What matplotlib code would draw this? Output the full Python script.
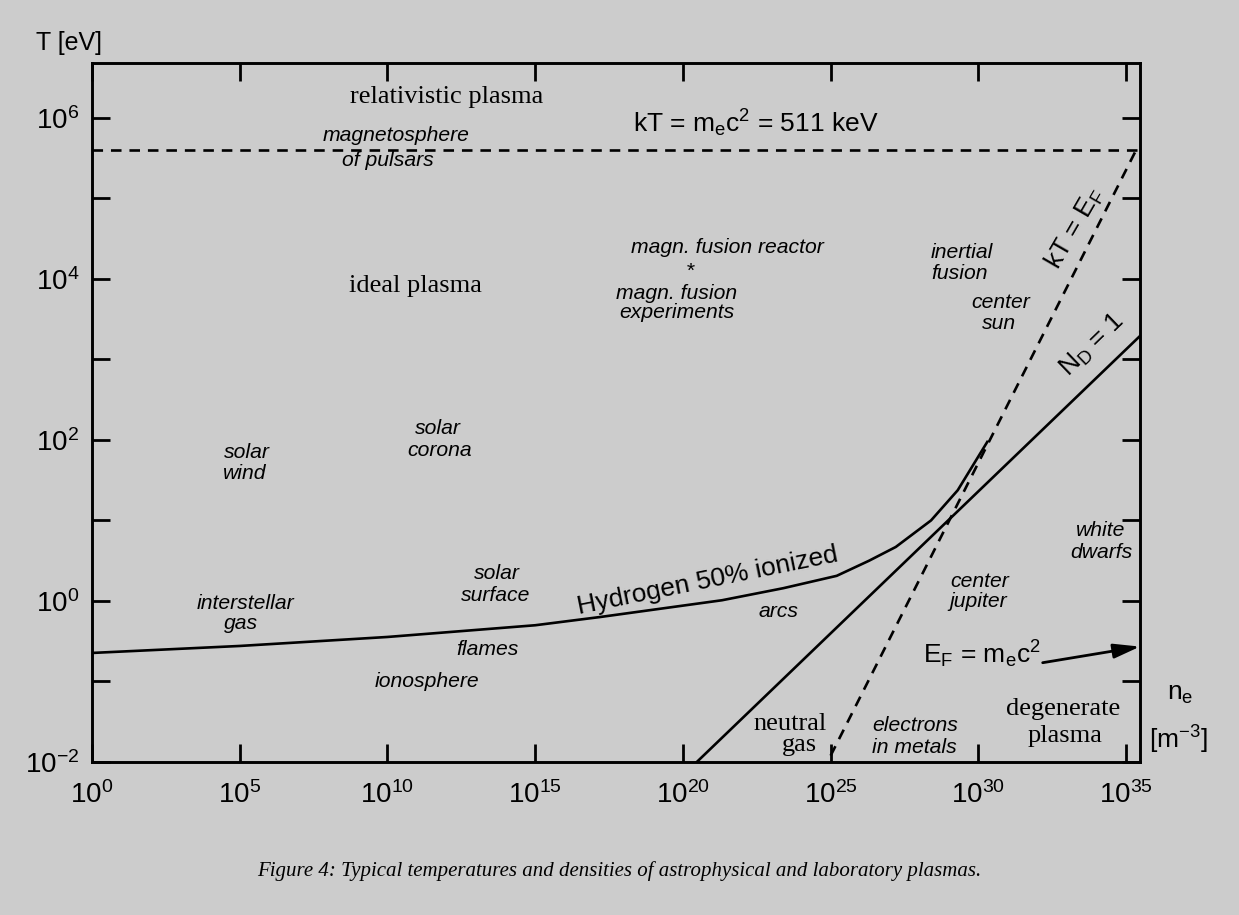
#!/usr/bin/env python3
"""Temperature / density map of astrophysical and laboratory plasmas.

Redraws the classic n_e - T overview: ideal vs. degenerate vs. relativistic
regimes, separated by the N_D = 1, kT = E_F and kT = m_e c^2 lines, plus the
hydrogen 50 % ionisation boundary.  Saves out.png (1239 x 915 px).
"""

import matplotlib
matplotlib.use("Agg")
import matplotlib.pyplot as plt
from matplotlib.ticker import FixedLocator, FixedFormatter, NullLocator

BG = "#cccccc"
SANS = "Liberation Sans"
SERIF = "Liberation Serif"

# axis ranges: n_e [m^-3] and T [eV]
XLIM = (1.0, 10 ** 35.47)
YLIM = (1.0e-2, 10 ** 6.68)

x_ticks = [1e0, 1e5, 1e10, 1e15, 1e20, 1e25, 1e30, 1e35]
x_ticklabels = [r"$10^{0}$", r"$10^{5}$", r"$10^{10}$", r"$10^{15}$",
                r"$10^{20}$", r"$10^{25}$", r"$10^{30}$", r"$10^{35}$"]
y_ticks = [1e-2, 1e-1, 1e0, 1e1, 1e2, 1e3, 1e4, 1e5, 1e6]
y_ticklabels = [r"$10^{-2}$", "", r"$10^{0}$", "", r"$10^{2}$", "",
                r"$10^{4}$", "", r"$10^{6}$"]

# hydrogen 50% ionized boundary
n_h50 = [1e0, 1e5, 1e10, 1e15, 1.6e17, 2.1e21, 2.5e23, 1.6e25,
         2.0e26, 1.6e27, 2.5e28, 2.0e29, 2.0e30]
T_h50 = [0.226, 0.276, 0.357, 0.499, 0.632, 1.02, 1.44, 2.05,
         3.16, 4.68, 10.0, 23.7, 94.4]

# N_D = 1 (one electron per Debye sphere)
n_nd1 = [2.95e20, 2.95e35]
T_nd1 = [1.0e-2, 1.95e3]

# kT = E_F (onset of degeneracy)
n_fermi = [1.0e25, 2.2e35]
T_fermi = [1.2e-2, 4.0e5]

# kT = m_e c^2 line, at the height it is drawn
n_rel = [1.0, 2.95e35]
T_rel = [4.0e5, 4.0e5]

# E_F = m_e c^2 pointer (tail at the label, head on the right frame)
arrow_tail = (1.5e32, 0.171)
arrow_head = (2.95e35, 0.271)

FONTS = {
    "it": dict(family=SANS, style="italic", size=15.2),
    "serif": dict(family=SERIF, size=19),
    "sans": dict(family=SANS, size=19),
}


def put(ax, s, lgn, lgT, kind="it", **kw):
    """Place a label at (10**lgn, 10**lgT), centred, on its baseline."""
    opts = dict(ha="center", va="baseline")
    opts.update(kw)
    ax.text(10 ** lgn, 10 ** lgT, s, **FONTS[kind], **opts)


def setup_axes(fig):
    ax = fig.add_axes([92 / 1239, 1 - 762 / 915,
                       (1140 - 92) / 1239, (762 - 63) / 915])
    ax.set_facecolor(BG)
    ax.set_xscale("log")
    ax.set_yscale("log")
    ax.set_xlim(*XLIM)
    ax.set_ylim(*YLIM)

    ax.xaxis.set_major_locator(FixedLocator(x_ticks))
    ax.xaxis.set_major_formatter(FixedFormatter(x_ticklabels))
    ax.yaxis.set_major_locator(FixedLocator(y_ticks))
    ax.yaxis.set_major_formatter(FixedFormatter(y_ticklabels))
    ax.xaxis.set_minor_locator(NullLocator())
    ax.yaxis.set_minor_locator(NullLocator())

    ax.tick_params(which="major", direction="in", length=13, width=2.0,
                   top=True, right=True, labelsize=20, colors="black")
    ax.tick_params(axis="x", pad=14)
    ax.tick_params(axis="y", pad=9)
    for sp in ax.spines.values():
        sp.set_linewidth(2.1)
    return ax


def draw_lines(ax):
    ax.plot(n_h50, T_h50, color="black", lw=1.9)
    ax.plot(n_nd1, T_nd1, color="black", lw=1.9)
    ax.plot(n_fermi, T_fermi, color="black", lw=1.9, dashes=(4, 3))
    ax.plot(n_rel, T_rel, color="black", lw=1.9, dashes=(4, 3))
    ax.annotate("", xy=arrow_head, xytext=arrow_tail,
                arrowprops=dict(arrowstyle="-|>,head_length=0.8,head_width=0.22",
                                color="black", lw=2.0, mutation_scale=20,
                                shrinkA=0, shrinkB=0),
                annotation_clip=False)


def draw_labels(ax):
    # regimes
    put(ax, "relativistic plasma", 12.01, 6.183, "serif")
    put(ax, "ideal plasma", 10.93, 3.835, "serif")
    put(ax, "neutral", 23.62, -1.60, "serif")
    put(ax, "gas", 23.93, -1.86, "serif")
    put(ax, "degenerate", 32.88, -1.42, "serif")
    put(ax, "plasma", 32.93, -1.755, "serif")

    # boundary lines
    put(ax, r"kT = m$_{e}$c$^{2}$ = 511 keV", 22.47, 5.822, "sans")
    put(ax, r"E$_{F}$ = m$_{e}$c$^{2}$", 30.12, -0.774, "sans")
    put(ax, "Hydrogen 50% ionized", 20.85, 0.245, "sans",
        va="center", rotation=11.5, rotation_mode="anchor")
    put(ax, r"kT = E$_{F}$", 33.27, 4.63, "sans",
        va="center", rotation=60, rotation_mode="anchor")
    put(ax, r"N$_{D}$ = 1", 33.87, 3.177, "sans",
        va="center", rotation=44, rotation_mode="anchor")

    # objects
    put(ax, "magnetosphere", 10.29, 5.711)
    put(ax, "of pulsars", 10.02, 5.40)
    put(ax, "magn. fusion reactor", 21.49, 4.319)
    put(ax, "*", 20.24, 4.095, va="center")
    put(ax, "magn. fusion", 19.80, 3.745)
    put(ax, "experiments", 19.80, 3.51)
    put(ax, "inertial", 29.44, 4.257)
    put(ax, "fusion", 29.37, 3.996)
    put(ax, "center", 30.76, 3.636)
    put(ax, "sun", 30.69, 3.375)
    put(ax, "solar", 5.245, 1.773)
    put(ax, "wind", 5.18, 1.512)
    put(ax, "solar", 11.71, 2.07)
    put(ax, "corona", 11.78, 1.797)
    put(ax, "solar", 13.71, 0.27)
    put(ax, "surface", 13.67, -0.004)
    put(ax, "interstellar", 5.18, -0.104)
    put(ax, "gas", 5.04, -0.352)
    put(ax, "flames", 13.37, -0.675)
    put(ax, "ionosphere", 11.35, -1.072)
    put(ax, "arcs", 23.25, -0.203)
    put(ax, "center", 30.05, 0.17)
    put(ax, "jupiter", 29.98, -0.078)
    put(ax, "white", 34.15, 0.804)
    put(ax, "dwarfs", 34.15, 0.53)
    put(ax, "electrons", 27.85, -1.619)
    put(ax, "in metals", 27.85, -1.893)


def main():
    plt.rcParams["font.family"] = [SANS, "DejaVu Sans"]
    plt.rcParams["mathtext.fontset"] = "custom"
    plt.rcParams["mathtext.rm"] = SANS
    plt.rcParams["mathtext.it"] = SANS + ":italic"
    plt.rcParams["mathtext.default"] = "regular"

    fig = plt.figure(figsize=(12.39, 9.15), dpi=100, facecolor=BG)
    ax = setup_axes(fig)
    draw_lines(ax)
    draw_labels(ax)

    # axis titles sit outside the frame, as in the original
    fig.text(69 / 1239, 1 - 50 / 915, "T [eV]", family=SANS, size=18,
             ha="center", va="baseline")
    fig.text(1180 / 1239, 1 - 700 / 915, r"n$_{e}$", family=SANS, size=19,
             ha="center", va="baseline")
    fig.text(1178 / 1239, 1 - 749 / 915, r"[m$^{-3}$]", family=SANS, size=19,
             ha="center", va="baseline")

    fig.text(0.5, 1 - 876 / 915,
             "Figure 4: Typical temperatures and densities of astrophysical "
             "and laboratory plasmas.",
             family=SERIF, style="italic", size=15, ha="center", va="baseline")

    fig.savefig("out.png", dpi=100, facecolor=BG)


if __name__ == "__main__":
    main()
